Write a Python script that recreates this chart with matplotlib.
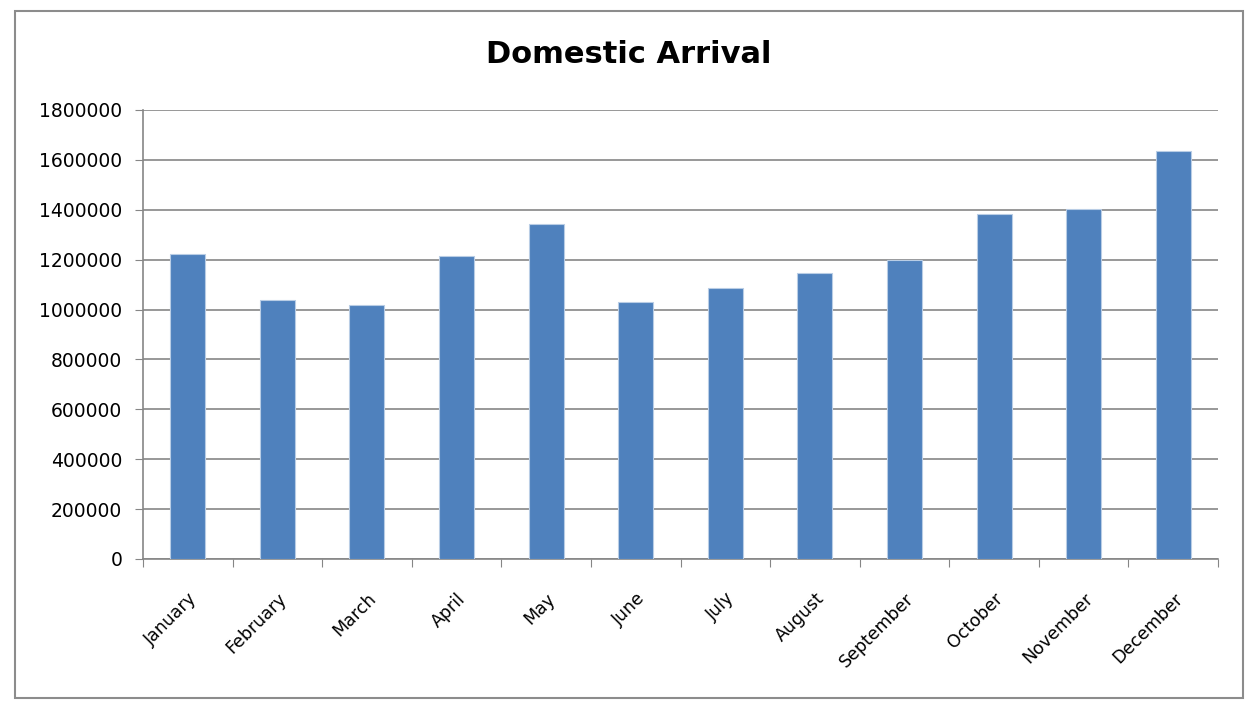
import matplotlib
matplotlib.use("Agg")
import matplotlib.pyplot as plt
from matplotlib.patches import Rectangle

months = ["January", "February", "March", "April", "May", "June", "July",
          "August", "September", "October", "November", "December"]
arrivals = [1223000, 1038000, 1018000, 1216000, 1342000, 1032000, 1088000,
            1145000, 1197000, 1382000, 1402000, 1636000]
y_ticks = [0, 200000, 400000, 600000, 800000, 1000000, 1200000, 1400000, 1600000, 1800000]

def main():
    plt.rcParams['font.family'] = ['DejaVu Sans']
    fig = plt.figure(figsize=(12.53, 7.04), dpi=100, facecolor='white')
    ax = fig.add_axes([0.1141, 0.2060, 0.8580, 0.6378])

    # chart area border
    fig.patches.append(Rectangle((0.012, 0.009), 0.980, 0.975, transform=fig.transFigure,
                                 fill=False, edgecolor='#8c8c8c', linewidth=1.5))

    x = range(len(months))
    ax.bar(x, arrivals, width=0.39, color='#4f81bd', edgecolor='#b9cde5',
           linewidth=0.8, zorder=3)

    ax.set_xlim(-0.5, len(months) - 0.5)
    ax.set_ylim(0, 1800000)
    ax.set_yticks(y_ticks)
    ax.set_yticklabels([str(v) for v in y_ticks], fontsize=13.5)
    ax.yaxis.grid(True, color='#868686', linewidth=1.2, zorder=0)

    ax.set_xticks([i + 0.5 for i in range(-1, len(months))], minor=False)
    ax.set_xticklabels([])
    ax.set_xticks(list(x), minor=True)
    ax.set_xticklabels(months, minor=True, rotation=45, ha='right',
                       rotation_mode='anchor', fontsize=12.5)
    ax.tick_params(axis='x', which='minor', length=0, pad=22)
    ax.tick_params(axis='x', which='major', length=6, color='#868686', direction='out')
    ax.tick_params(axis='y', length=6, color='#868686', direction='out', pad=9)

    for side in ['top', 'right']:
        ax.spines[side].set_visible(False)
    for side in ['left', 'bottom']:
        ax.spines[side].set_color('#868686')
        ax.spines[side].set_linewidth(1.2)

    fig.text(0.502, 0.922, "Domestic Arrival", ha='center', va='center',
             fontsize=22, fontweight='bold')

    fig.savefig("out.png", dpi=100, facecolor='white')

if __name__ == '__main__':
    main()
